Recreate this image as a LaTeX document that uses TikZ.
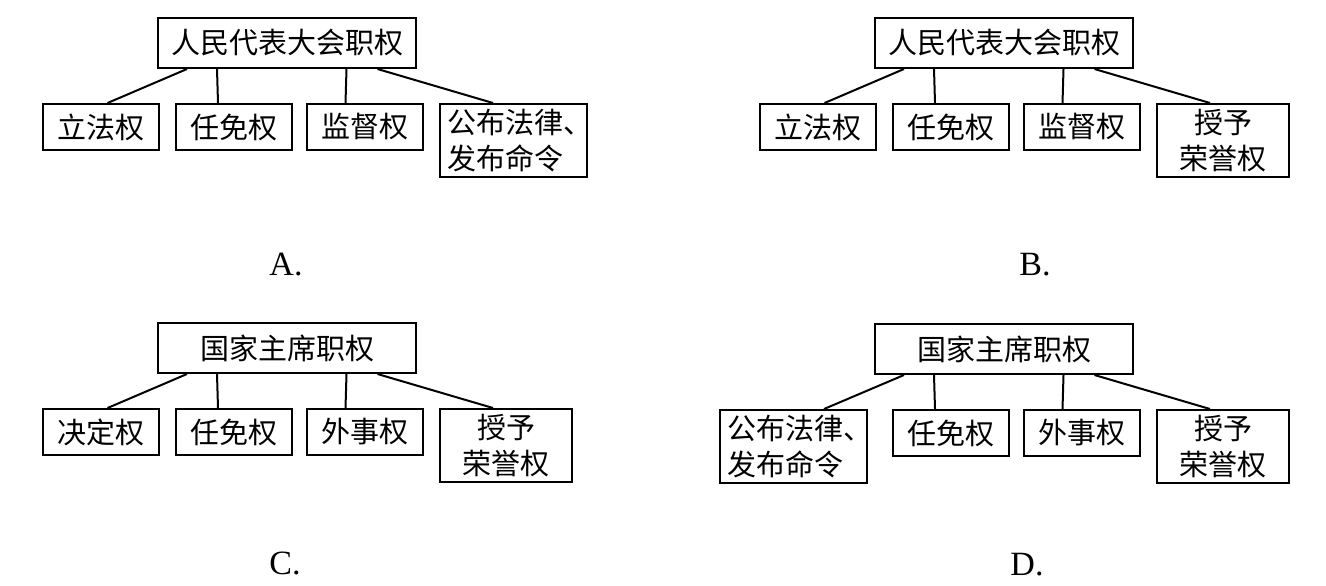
\documentclass[tikz,border=0pt]{standalone}
\usepackage{fontspec}
\newfontfamily\cjk{Noto Sans CJK SC}
\newfontfamily\optfont{Liberation Serif}
\tikzstyle{head}=[draw,
                  line width=1pt,
                  minimum width=129pt,
                  minimum height=25pt,
                  inner sep=0pt,
                  font=\cjk\fontsize{14.5}{18}\selectfont]
\tikzstyle{leaf}=[draw,
                  line width=1pt,
                  anchor=north,
                  minimum width=58pt,
                  minimum height=23pt,
                  inner sep=0pt,
                  font=\cjk\fontsize{14.5}{18}\selectfont]
\tikzstyle{twoline}=[leaf,
                     minimum height=36.5pt]
\tikzstyle{longtext}=[twoline,
                      text width=66pt,
                      inner xsep=3.75pt,
                      align=left]
\tikzstyle{choice}=[font=\optfont\fontsize{17}{20}\selectfont]
\tikzstyle{link}=[line width=1pt]

\begin{document}
\begin{tikzpicture}[x=0.5pt,y=-0.5pt]
  \useasboundingbox (0,0) rectangle (1326,585);

  \begin{scope}
    \node[head] (ta) at (287,43) {人民代表大会职权};
    \node[leaf] (a1) at (101,103) {立法权};
    \node[leaf] (a2) at (234,103) {任免权};
    \node[leaf] (a3) at (365,103) {监督权};
    \node[longtext] (a4) at (513.5,103) {公布法律、\\发布命令};
    \node[choice] (la) at (286,265) {A.};
    \draw[link] ([xshift=15pt]ta.south west) -- ([xshift=3.25pt]a1.north);
    \draw[link] ([xshift=30pt]ta.south west) -- ([xshift=-8pt]a2.north);
    \draw[link] ([xshift=-35.25pt]ta.south east) -- ([xshift=-9.75pt]a3.north);
    \draw[link] ([xshift=-19.75pt]ta.south east) -- ([xshift=-10.25pt]a4.north);
  \end{scope}

  \begin{scope}[shift={(717,0)}]
    \node[head] (tb) at (287,43) {人民代表大会职权};
    \node[leaf] (b1) at (101,103) {立法权};
    \node[leaf] (b2) at (234,103) {任免权};
    \node[leaf] (b3) at (365,103) {监督权};
    \node[twoline, minimum width=66pt, align=center] (b4) at (506,103) {授予\\荣誉权};
    \node[choice] (lb) at (318,265) {B.};
    \draw[link] ([xshift=15pt]tb.south west) -- ([xshift=3.25pt]b1.north);
    \draw[link] ([xshift=30pt]tb.south west) -- ([xshift=-8pt]b2.north);
    \draw[link] ([xshift=-35.25pt]tb.south east) -- ([xshift=-9.75pt]b3.north);
    \draw[link] ([xshift=-19.75pt]tb.south east) -- ([xshift=-6.5pt]b4.north);
  \end{scope}

  \begin{scope}[shift={(0,305)}]
    \node[head] (tc) at (287,43) {国家主席职权};
    \node[leaf] (c1) at (101,103) {决定权};
    \node[leaf] (c2) at (234,103) {任免权};
    \node[leaf] (c3) at (365,103) {外事权};
    \node[twoline, minimum width=66pt, align=center] (c4) at (506,103) {授予\\荣誉权};
    \node[choice] (lc) at (285,258) {C.};
    \draw[link] ([xshift=15pt]tc.south west) -- ([xshift=3.25pt]c1.north);
    \draw[link] ([xshift=30pt]tc.south west) -- ([xshift=-8pt]c2.north);
    \draw[link] ([xshift=-35.25pt]tc.south east) -- ([xshift=-9.75pt]c3.north);
    \draw[link] ([xshift=-19.75pt]tc.south east) -- ([xshift=-6.5pt]c4.north);
  \end{scope}

  \begin{scope}[shift={(717,306)}]
    \node[head] (td) at (287,43) {国家主席职权};
    \node[longtext] (d1) at (76.5,103) {公布法律、\\发布命令};
    \node[leaf] (d2) at (234,103) {任免权};
    \node[leaf] (d3) at (365,103) {外事权};
    \node[twoline, minimum width=66pt, align=center] (d4) at (506,103) {授予\\荣誉权};
    \node[choice] (ld) at (310,259) {D.};
    \draw[link] ([xshift=15pt]td.south west) -- ([xshift=15.25pt]d1.north);
    \draw[link] ([xshift=30pt]td.south west) -- ([xshift=-8pt]d2.north);
    \draw[link] ([xshift=-35.25pt]td.south east) -- ([xshift=-9.75pt]d3.north);
    \draw[link] ([xshift=-19.75pt]td.south east) -- ([xshift=-6.5pt]d4.north);
  \end{scope}
\end{tikzpicture}
\end{document}
